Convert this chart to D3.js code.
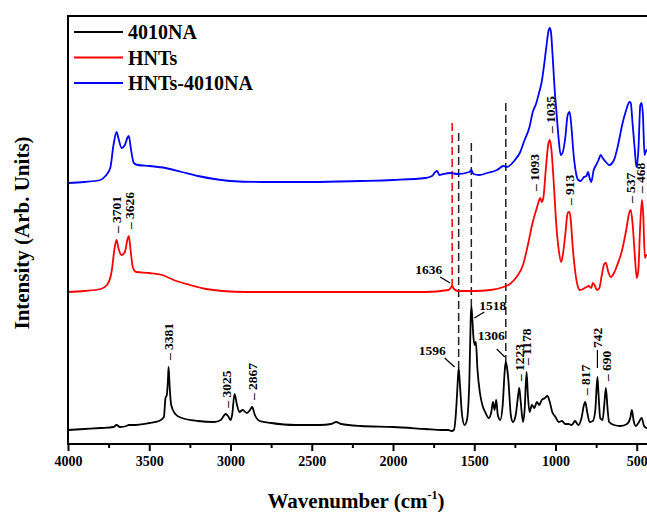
<!DOCTYPE html>
<html>
<head>
<meta charset="utf-8">
<script src="https://cdn.jsdelivr.net/npm/d3@7"></script>
<style>
  body { margin: 0; background: #fff; }
  svg { display: block; }
  text { font-family: "Liberation Serif", Tinos, "Times New Roman", "DejaVu Serif", serif; font-weight: bold; }
</style>
</head>
<body>
<div id="chart"></div>
<script>
// ---- data (wavenumber in cm-1, intensity in arbitrary units, stacked offsets included) ----
var seriesNames = ["4010NA", "HNTs", "HNTs-4010NA"];
var seriesColors = ["#000000", "#ff0000", "#0000ff"];

var wn4010NA = [4000,3900,3800,3720,3701,3680,3640,3626,3600,3500,3440,3410,3400,3392,3385,3381,3375,3365,3340,3300,3200,3100,3060,3030,3015,3000,2990,2975,2960,2945,2925,2900,2880,2867,2850,2820,2750,2600,2450,2380,2350,2320,2200,2000,1800,1700,1660,1640,1625,1615,1605,1596,1588,1575,1560,1545,1530,1522,1518,1512,1506,1498,1490,1480,1465,1450,1430,1410,1395,1385,1375,1365,1355,1340,1325,1312,1306,1298,1290,1275,1262,1245,1228,1223,1215,1200,1190,1178,1170,1160,1145,1130,1115,1100,1085,1065,1050,1035,1020,1000,980,960,940,920,900,880,860,840,825,817,805,790,770,755,742,735,725,710,700,690,680,670,640,600,560,540,530,520,505,490,470,455,440,420];
var int4010NA = [14,15,16,17,19,17,18,19,19,21,23,27,46,49,64,77,59,39,30,26,23,22,24,30,28,24,29,50,39,32,34,31,34,37,29,23,21,19,19,20,22,20,18,17,15,14,14,13,14,26,52,76,59,29,19,24,64,124,138,126,109,99,102,74,51,39,31,26,32,42,34,44,29,24,39,74,82,76,64,29,22,29,51,56,44,22,34,72,49,32,39,36,42,39,44,46,48,42,32,27,22,23,20,20,19,23,19,26,39,42,32,22,23,34,67,49,26,24,39,56,36,22,19,18,20,26,34,24,18,21,26,18,16,15];

var wnHNTs = [4000,3900,3800,3760,3730,3715,3701,3690,3670,3650,3635,3626,3615,3600,3580,3500,3420,3350,3250,3150,3050,2900,2500,2000,1800,1660,1650,1636,1625,1600,1500,1400,1320,1280,1240,1200,1170,1140,1115,1100,1093,1085,1075,1060,1045,1035,1025,1010,995,980,965,955,940,925,913,905,895,880,865,850,830,810,795,780,770,760,745,730,715,700,690,675,660,640,620,590,565,545,537,525,512,500,490,480,468,460,450,440,420];
var intHNTs = [152,153,155,159,174,194,204,196,189,192,204,208,194,176,172,171,169,164,159,155,153,152,152,152,152,154,155,158,155,153,153,154,157,160,167,179,199,222,236,244,246,242,246,274,299,304,294,259,219,194,182,189,209,231,232,222,199,174,159,154,155,157,158,156,161,159,154,156,169,180,181,172,167,171,179,194,214,232,234,219,189,166,174,214,244,229,186,189,182];

var wnHybrid = [4000,3900,3800,3770,3740,3720,3701,3690,3670,3650,3635,3626,3612,3595,3570,3500,3400,3300,3200,3100,3000,2800,2500,2200,2000,1800,1760,1740,1728,1715,1690,1650,1600,1530,1518,1505,1470,1420,1360,1320,1300,1250,1220,1190,1160,1140,1120,1100,1085,1070,1055,1042,1035,1028,1018,1005,995,980,968,955,940,925,913,903,890,875,860,845,825,810,800,790,780,765,750,735,722,710,690,670,640,615,590,565,545,537,525,512,502,490,478,470,462,452,440,420];
var intHybrid = [261,262,264,268,276,299,312,306,296,299,306,308,294,281,279,278,276,272,268,265,263,262,262,263,264,266,268,272,273,269,270,271,270,272,274,270,269,271,274,278,277,284,291,304,317,332,340,352,362,379,399,414,416,412,389,354,334,304,289,292,306,329,332,319,292,272,264,263,267,268,272,266,262,274,279,284,289,286,282,279,284,299,319,334,342,341,319,294,277,294,339,341,329,289,294,284];

var allWn = [wn4010NA, wnHNTs, wnHybrid];
var allInt = [int4010NA, intHNTs, intHybrid];

// peak labels: [wavenumber, series index]
var vertLabels = [[3381,0],[3025,0],[2867,0],[1223,0],[1178,0],[817,0],[742,0],[690,0],
                  [3701,1],[3626,1],[1093,1],[1035,1],[913,1],[537,1],[468,1]];
var horizLabels = [[1636,1],[1596,0],[1518,0],[1306,0]];

// dashed guide lines: [wavenumber, series the line stops on, top intensity, colour]
var guides = [[1636,1,321,"#ff0000"],[1596,0,311,"#222"],[1518,0,301,"#222"],[1306,0,341,"#222"]];

var xTicks = [4000,3500,3000,2500,2000,1500,1000,500];
var xMinor = [3750,3250,2750,2250,1750,1250,750];

// ---- layout ----
var w = 647, h = 512;
var margin = { top: 16, left: 68 };
var plotRight = 653, plotBottom = 444;

var svg = d3.select("#chart").append("svg")
  .attr("width", w)
  .attr("height", h);

var xScale = d3.scaleLinear().domain([4000, 400]).range([margin.left, plotRight]);
var yScale = d3.scaleLinear().domain([0, 428]).range([plotBottom, margin.top]);

function valueAt(si, x) {
  var wn = allWn[si], iv = allInt[si];
  for (var i = 0; i < wn.length - 1; i++) {
    if (x <= wn[i] && x >= wn[i + 1]) {
      var t = (wn[i] - x) / (wn[i] - wn[i + 1]);
      return iv[i] + t * (iv[i + 1] - iv[i]);
    }
  }
  return iv[iv.length - 1];
}

svg.append("clipPath").attr("id", "clip")
  .append("rect")
  .attr("x", margin.left).attr("y", margin.top)
  .attr("width", plotRight - margin.left).attr("height", plotBottom - margin.top);

var line = d3.line()
  .x(function(d){ return xScale(d[0]) })
  .y(function(d){ return yScale(d[1]) })
  .curve(d3.curveMonotoneX);

// dashed guides
svg.append("g").selectAll("line")
  .data(guides)
  .enter()
  .append("line")
  .attr("x1", function(d){ return xScale(d[0]) })
  .attr("x2", function(d){ return xScale(d[0]) })
  .attr("y1", function(d){ return yScale(d[2]) })
  .attr("y2", function(d){ return yScale(valueAt(d[1], d[0])) })
  .style("stroke", function(d){ return d[3] })
  .style("stroke-width", 1.5)
  .style("stroke-dasharray", "8,4");

// spectra
var spectra = svg.append("g").attr("clip-path", "url(#clip)");
[2, 1, 0].forEach(function(si){
  var pts = allWn[si].map(function(x, i){ return [x, allInt[si][i]] });
  spectra.append("path")
    .attr("d", line(pts))
    .style("fill", "none")
    .style("stroke", seriesColors[si])
    .style("stroke-width", 1.8)
    .style("stroke-linejoin", "round");
});

// rotated peak labels
var lift = { 742: 24 };
var shiftX = { 1093: -6 };
var ann = svg.append("g").style("font-size", "13.5px");
vertLabels.forEach(function(d){
  var x = Math.min(xScale(d[0]), 640) + (shiftX[d[0]] || 0);
  var y = yScale(valueAt(d[1], d[0])) - 7 - (lift[d[0]] || 0);
  if (lift[d[0]]) {
    ann.append("line")
      .attr("x1", x).attr("x2", x)
      .attr("y1", y + 4).attr("y2", y + lift[d[0]] - 2)
      .style("stroke", "#000").style("stroke-width", 1.2);
    ann.append("text")
      .attr("transform", "translate(" + x + "," + (y + 2) + ") rotate(-90)")
      .attr("dy", "0.35em")
      .text(d[0]);
  } else {
    ann.append("text")
      .attr("transform", "translate(" + x + "," + y + ") rotate(-90)")
      .attr("dy", "0.35em")
      .text("\u2013 " + d[0]);
  }
});

// horizontal peak labels with leader lines
var hLayout = {
  1636: { dx: -10, dy: -12, anchor: "end",   l: [-12, -9, -2, -3] },
  1596: { dx: -13, dy: -13, anchor: "end",   l: [-14, -10, -4, -1] },
  1518: { dx: 8,   dy: 4,   anchor: "start", l: [13, 6, 3, 12] },
  1306: { dx: -1,  dy: -22, anchor: "end",   l: [-9, -13, -1, -5] }
};
horizLabels.forEach(function(d){
  var px = xScale(d[0]), py = yScale(valueAt(d[1], d[0]));
  var o = hLayout[d[0]];
  ann.append("text")
    .attr("x", px + o.dx).attr("y", py + o.dy)
    .attr("text-anchor", o.anchor)
    .text(d[0]);
  ann.append("line")
    .attr("x1", px + o.l[0]).attr("y1", py + o.l[1])
    .attr("x2", px + o.l[2]).attr("y2", py + o.l[3])
    .style("stroke", "#000").style("stroke-width", 1.2);
});

// frame
svg.append("rect")
  .attr("x", margin.left).attr("y", margin.top)
  .attr("width", plotRight - margin.left).attr("height", plotBottom - margin.top)
  .style("fill", "none").style("stroke", "#000").style("stroke-width", 2);

// x axis
var xAxis = d3.axisBottom(xScale)
  .tickValues(xTicks)
  .tickFormat(d3.format("d"))
  .tickSize(7)
  .tickSizeOuter(0)
  .tickPadding(5);

var gx = svg.append("g")
  .attr("transform", "translate(0," + plotBottom + ")")
  .call(xAxis);
gx.select(".domain").remove();
gx.selectAll(".tick line").style("stroke-width", 2);
gx.selectAll(".tick text")
  .style("font-family", "'Liberation Serif', Tinos, 'Times New Roman', serif")
  .style("font-weight", "bold")
  .style("font-size", "14px");

var xAxisMinor = d3.axisBottom(xScale).tickValues(xMinor).tickSize(4).tickFormat("").tickSizeOuter(0);
var gm = svg.append("g")
  .attr("transform", "translate(0," + plotBottom + ")")
  .call(xAxisMinor);
gm.select(".domain").remove();
gm.selectAll(".tick line").style("stroke-width", 2);

// axis titles
var xt = svg.append("text")
  .attr("x", 356).attr("y", 508)
  .attr("text-anchor", "middle")
  .style("font-size", "21px");
xt.append("tspan").text("Wavenumber (cm");
xt.append("tspan").attr("dy", -9).style("font-size", "12px").text("-1");
xt.append("tspan").attr("dy", 9).text(")");

svg.append("text")
  .attr("transform", "translate(22,233) rotate(-90)")
  .attr("text-anchor", "middle")
  .attr("dy", "0.35em")
  .style("font-size", "21px")
  .text("Intensity (Arb. Units)");

// legend
var legend = svg.append("g");
seriesNames.forEach(function(name, i){
  var y = 32 + i * 25.5;
  legend.append("line")
    .attr("x1", 74).attr("x2", 123)
    .attr("y1", y).attr("y2", y)
    .style("stroke", seriesColors[i]).style("stroke-width", 1.8);
  legend.append("text")
    .attr("x", 128).attr("y", y)
    .attr("dy", "0.35em")
    .style("font-size", "20px")
    .text(name);
});
</script>
</body>
</html>
